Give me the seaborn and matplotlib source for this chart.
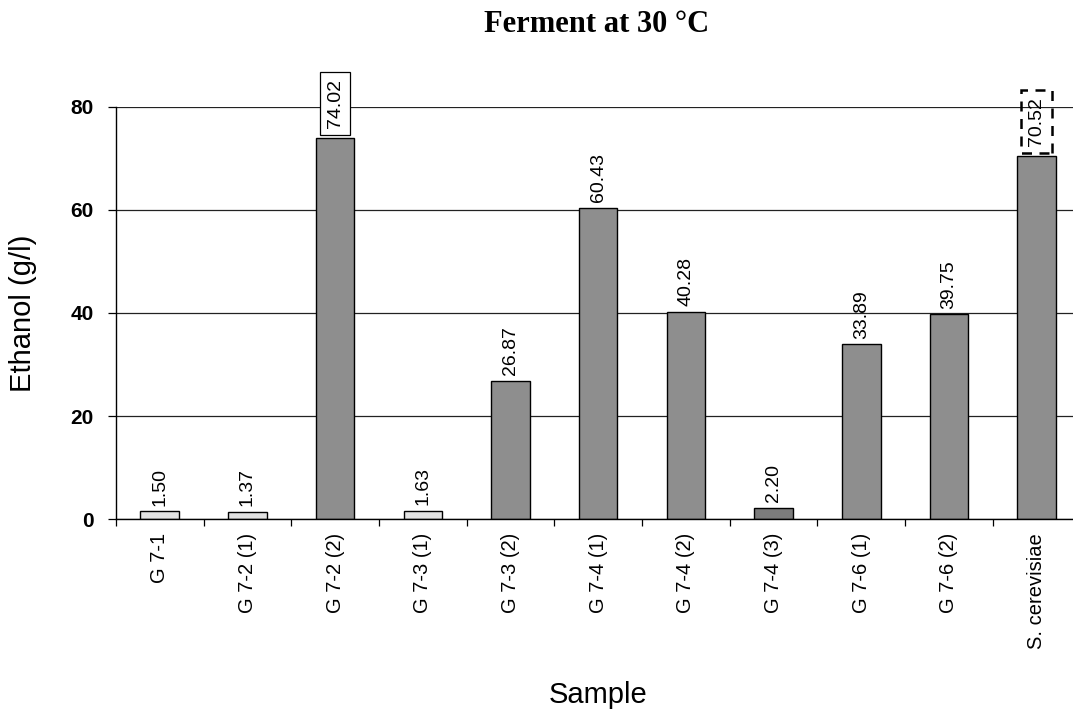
import matplotlib
matplotlib.use("Agg")
import matplotlib.pyplot as plt
import seaborn as sns
import pandas as pd
import numpy as np

samples = ["G 7-1", "G 7-2 (1)", "G 7-2 (2)", "G 7-3 (1)", "G 7-3 (2)", "G 7-4 (1)",
           "G 7-4 (2)", "G 7-4 (3)", "G 7-6 (1)", "G 7-6 (2)", "S. cerevisiae"]
ethanol = [1.50, 1.37, 74.02, 1.63, 26.87, 60.43, 40.28, 2.20, 33.89, 39.75, 70.52]
bar_colors = ["#e2e2e2", "#e2e2e2", "#8e8e8e", "#e2e2e2", "#8e8e8e", "#8e8e8e",
              "#8e8e8e", "#7c7c7c", "#8e8e8e", "#8e8e8e", "#8e8e8e"]
yticks = [0, 20, 40, 60, 80]

sns.set_theme(style="white")
plt.rcParams["font.family"] = ["Liberation Sans", "DejaVu Sans"]
for key in ["text.color", "axes.labelcolor", "xtick.color", "ytick.color"]:
    plt.rcParams[key] = "black"

df = pd.DataFrame({"Sample": samples, "Ethanol": ethanol})

fig = plt.figure(figsize=(10.73, 7.17), dpi=100)
ax = fig.add_axes([0.108, 0.276, 0.899, 0.575])

sns.barplot(data=df, x="Sample", y="Ethanol", hue="Sample", palette=bar_colors,
            legend=False, width=0.44, edgecolor="black", linewidth=1.0,
            saturation=1, ax=ax)

ax.set_ylim(0, 80)
ax.set_xlim(-0.5, len(samples) - 0.5)
ax.set_yticks(yticks)
ax.set_yticklabels([str(t) for t in yticks], fontsize=15, fontweight="bold")
ax.yaxis.grid(True, color="#222222", linewidth=0.9)
ax.set_axisbelow(True)

# category labels centred, tick marks on category boundaries
ax.set_xticks(range(len(samples)))
ax.set_xticklabels(samples, rotation=90, fontsize=14.5)
ax.set_xticks(np.arange(-0.5, len(samples), 1.0), minor=True)
ax.tick_params(axis="x", which="major", length=0, pad=10, bottom=True)
ax.tick_params(axis="x", which="minor", length=5, width=0.9, color="black",
               direction="out", bottom=True)
ax.tick_params(axis="y", length=6, width=0.9, color="black", direction="out",
               left=True, pad=10)

for side in ["top", "right"]:
    ax.spines[side].set_visible(False)
for side in ["left", "bottom"]:
    ax.spines[side].set_color("black")
    ax.spines[side].set_linewidth(1.0)

# value labels above the bars
for i, v in enumerate(ethanol):
    kw = {}
    offset = 4
    if samples[i] == "G 7-2 (2)":
        kw["bbox"] = dict(boxstyle="square,pad=0.35", fc="white", ec="black", lw=0.9)
        offset = 7
    elif samples[i] == "S. cerevisiae":
        kw["bbox"] = dict(boxstyle="square,pad=0.35", fc="none", ec="black", lw=1.8,
                          linestyle=(0, (4, 3)))
        offset = 7
    ax.annotate(f"{v:.2f}", xy=(i, v), xytext=(0, offset), textcoords="offset points",
                rotation=90, ha="center", va="bottom", fontsize=14, **kw)

ax.set_xlabel("")
ax.set_ylabel("")
fig.text(23 / 1073, 1 - 313 / 717, "Ethanol (g/l)", rotation=90, ha="center",
         va="center", fontsize=21)
fig.text(598 / 1073, 1 - 695 / 717, "Sample", ha="center", va="center", fontsize=21)
fig.text(597 / 1073, 1 - 25 / 717, "Ferment at 30 °C", ha="center", va="center",
         fontsize=22, fontweight="bold", family=["Liberation Serif", "DejaVu Serif"])

fig.savefig("out.png", dpi=100)
